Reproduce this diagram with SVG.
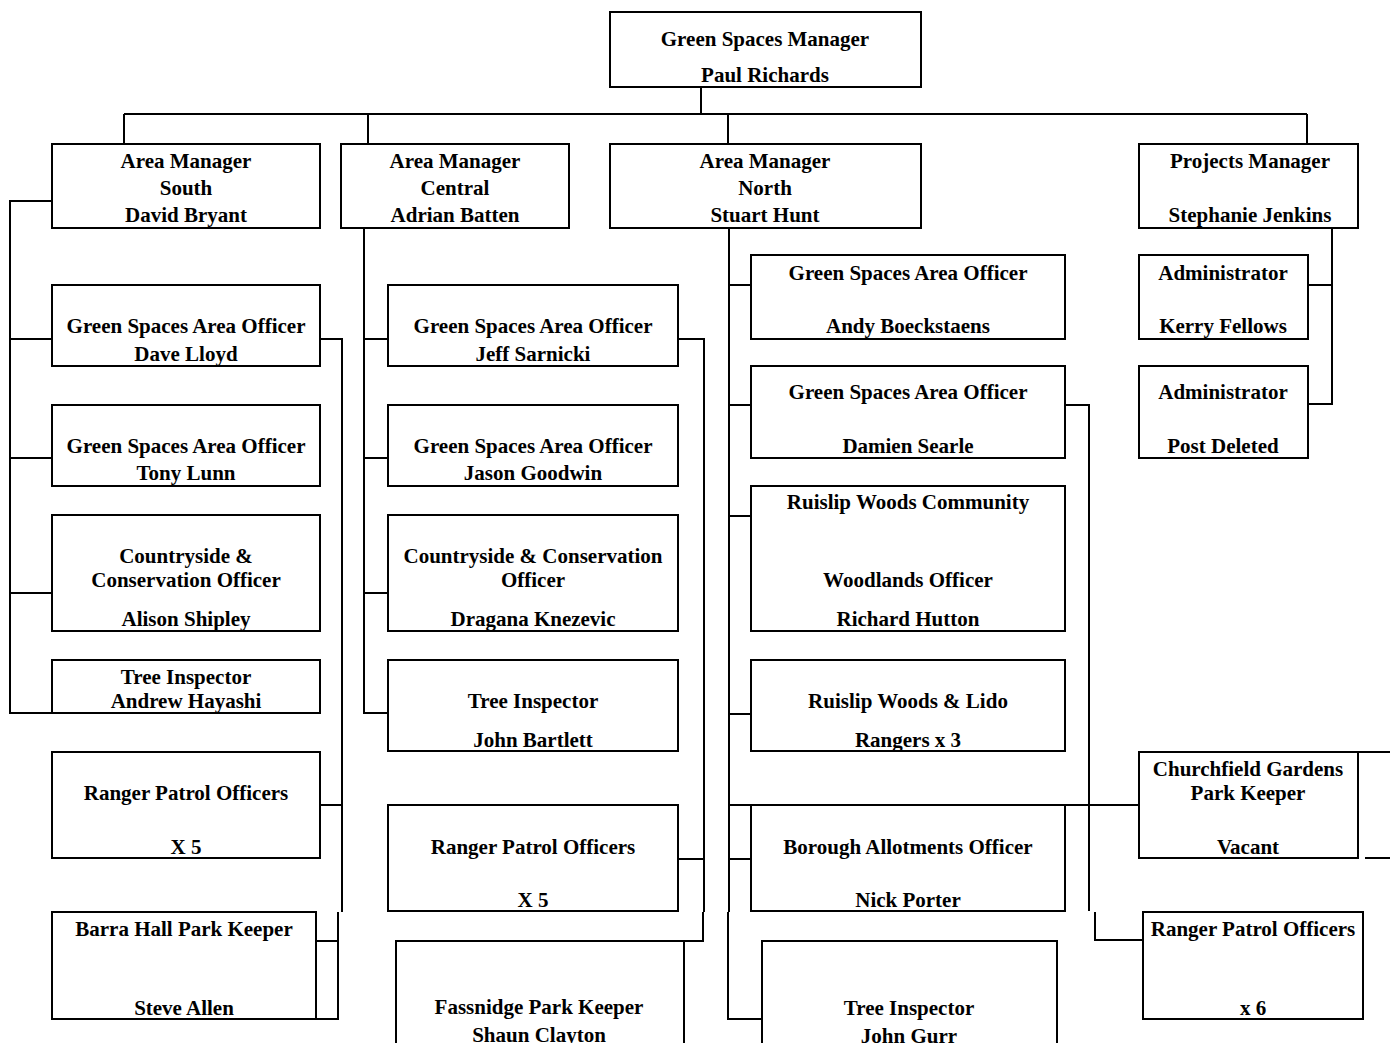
<svg xmlns="http://www.w3.org/2000/svg" width="1394" height="1043" viewBox="0 0 1394 1043">
<style>
.b{fill:#fff;stroke:#000;stroke-width:2}
.t{font-family:"Liberation Serif","Times New Roman",serif;font-weight:bold;font-size:21px;text-anchor:middle;fill:#000}
.c{fill:none;stroke:#000;stroke-width:2}
</style>
<rect width="1394" height="1043" fill="#fff"/>
<g id="connectors" class="c">
<path d="M701 87V114M124 114H1307M124 114V144M368 114V144M728 114V144M1307 114V144"/>
<path d="M52 201H10V713H52M10 339H52M10 458H52M10 593H52"/>
<path d="M320 339H342V912M320 805H342M316 941H338M338 912V1019H316"/>
<path d="M364 228V713H388M364 339H388M364 458H388M364 593H388"/>
<path d="M678 339H704V912M678 859H704M703 912V941H396"/>
<path d="M729 228V912M729 285H751M729 405H751M729 516H751M729 714H751M729 805H1139M729 859H751M728 912V1019H762"/>
<path d="M1065 405H1089V911M1095 912V940H1143"/>
<path d="M1332 229V404H1308M1308 285H1332"/>
<path d="M1358 752H1390M1365 858H1390"/>
</g>
<g id="gsm"><rect class="b" x="610" y="12" width="311" height="75"/><text class="t" x="765" y="46">Green Spaces Manager</text><text class="t" x="765" y="82">Paul Richards</text></g>
<g id="am-south"><rect class="b" x="52" y="144" width="268" height="84"/><text class="t" x="186" y="168">Area Manager</text><text class="t" x="186" y="195">South</text><text class="t" x="186" y="222">David Bryant</text></g>
<g id="am-central"><rect class="b" x="341" y="144" width="228" height="84"/><text class="t" x="455" y="168">Area Manager</text><text class="t" x="455" y="195">Central</text><text class="t" x="455" y="222">Adrian Batten</text></g>
<g id="am-north"><rect class="b" x="610" y="144" width="311" height="84"/><text class="t" x="765" y="168">Area Manager</text><text class="t" x="765" y="195">North</text><text class="t" x="765" y="222">Stuart Hunt</text></g>
<g id="pm"><rect class="b" x="1139" y="144" width="219" height="84"/><text class="t" x="1250" y="168">Projects Manager</text><text class="t" x="1250" y="222">Stephanie Jenkins</text></g>
<g id="s-gsao1"><rect class="b" x="52" y="285" width="268" height="81"/><text class="t" x="186" y="333">Green Spaces Area Officer</text><text class="t" x="186" y="361">Dave Lloyd</text></g>
<g id="s-gsao2"><rect class="b" x="52" y="405" width="268" height="81"/><text class="t" x="186" y="453">Green Spaces Area Officer</text><text class="t" x="186" y="480">Tony Lunn</text></g>
<g id="s-cco"><rect class="b" x="52" y="515" width="268" height="116"/><text class="t" x="186" y="563">Countryside &amp;</text><text class="t" x="186" y="587">Conservation Officer</text><text class="t" x="186" y="626">Alison Shipley</text></g>
<g id="s-tree"><rect class="b" x="52" y="660" width="268" height="53"/><text class="t" x="186" y="684">Tree Inspector</text><text class="t" x="186" y="708">Andrew Hayashi</text></g>
<g id="s-rpo"><rect class="b" x="52" y="752" width="268" height="106"/><text class="t" x="186" y="800">Ranger Patrol Officers</text><text class="t" x="186" y="854">X 5</text></g>
<g id="s-barra"><rect class="b" x="52" y="912" width="264" height="107"/><text class="t" x="184" y="936">Barra Hall Park Keeper</text><text class="t" x="184" y="1015">Steve Allen</text></g>
<g id="c-gsao1"><rect class="b" x="388" y="285" width="290" height="81"/><text class="t" x="533" y="333">Green Spaces Area Officer</text><text class="t" x="533" y="361">Jeff Sarnicki</text></g>
<g id="c-gsao2"><rect class="b" x="388" y="405" width="290" height="81"/><text class="t" x="533" y="453">Green Spaces Area Officer</text><text class="t" x="533" y="480">Jason Goodwin</text></g>
<g id="c-cco"><rect class="b" x="388" y="515" width="290" height="116"/><text class="t" x="533" y="563">Countryside &amp; Conservation</text><text class="t" x="533" y="587">Officer</text><text class="t" x="533" y="626">Dragana Knezevic</text></g>
<g id="c-tree"><rect class="b" x="388" y="660" width="290" height="91"/><text class="t" x="533" y="708">Tree Inspector</text><text class="t" x="533" y="747">John Bartlett</text></g>
<g id="c-rpo"><rect class="b" x="388" y="805" width="290" height="106"/><text class="t" x="533" y="854">Ranger Patrol Officers</text><text class="t" x="533" y="907">X 5</text></g>
<g id="c-fass"><rect class="b" x="396" y="941" width="288" height="110"/><text class="t" x="539" y="1014">Fassnidge Park Keeper</text><text class="t" x="539" y="1042">Shaun Clayton</text></g>
<g id="n-gsao1"><rect class="b" x="751" y="255" width="314" height="84"/><text class="t" x="908" y="280">Green Spaces Area Officer</text><text class="t" x="908" y="333">Andy Boeckstaens</text></g>
<g id="n-gsao2"><rect class="b" x="751" y="366" width="314" height="92"/><text class="t" x="908" y="399">Green Spaces Area Officer</text><text class="t" x="908" y="453">Damien Searle</text></g>
<g id="n-rwc"><rect class="b" x="751" y="486" width="314" height="145"/><text class="t" x="908" y="509">Ruislip Woods Community</text><text class="t" x="908" y="587">Woodlands Officer</text><text class="t" x="908" y="626">Richard Hutton</text></g>
<g id="n-lido"><rect class="b" x="751" y="660" width="314" height="91"/><text class="t" x="908" y="708">Ruislip Woods &amp; Lido</text><text class="t" x="908" y="747">Rangers x 3</text></g>
<g id="n-allot"><rect class="b" x="751" y="805" width="314" height="106"/><text class="t" x="908" y="854">Borough Allotments Officer</text><text class="t" x="908" y="907">Nick Porter</text></g>
<g id="n-tree"><rect class="b" x="762" y="941" width="295" height="110"/><text class="t" x="909" y="1015">Tree Inspector</text><text class="t" x="909" y="1043">John Gurr</text></g>
<g id="adm1"><rect class="b" x="1139" y="255" width="169" height="84"/><text class="t" x="1223" y="280">Administrator</text><text class="t" x="1223" y="333">Kerry Fellows</text></g>
<g id="adm2"><rect class="b" x="1139" y="366" width="169" height="92"/><text class="t" x="1223" y="399">Administrator</text><text class="t" x="1223" y="453">Post Deleted</text></g>
<g id="church"><rect class="b" x="1139" y="752" width="219" height="106"/><text class="t" x="1248" y="776">Churchfield Gardens</text><text class="t" x="1248" y="800">Park Keeper</text><text class="t" x="1248" y="854">Vacant</text></g>
<g id="n-rpo"><rect class="b" x="1143" y="912" width="220" height="107"/><text class="t" x="1253" y="936">Ranger Patrol Officers</text><text class="t" x="1253" y="1015">x 6</text></g>
</svg>
